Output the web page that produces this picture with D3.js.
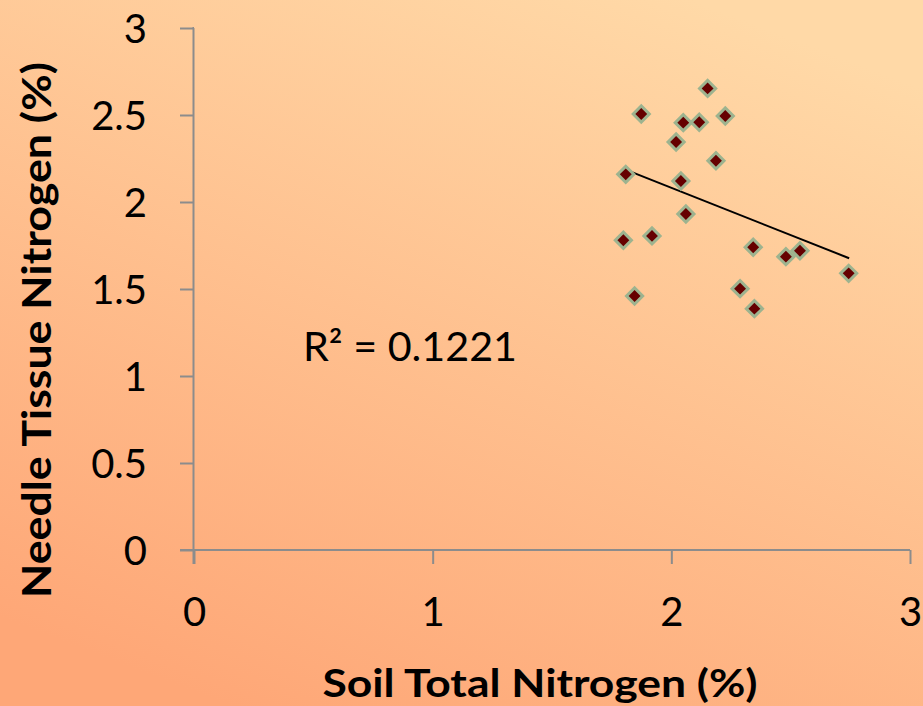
<!DOCTYPE html>
<html>
<head>
<meta charset="utf-8">
<script src="https://cdn.jsdelivr.net/npm/d3@7"></script>
<style>
  html, body { margin: 0; padding: 0; }
  body { width: 923px; height: 706px; overflow: hidden; }
  svg { display: block; }
</style>
</head>
<body>
<svg id="chart" width="923" height="706"></svg>
<script>
// Data
const soilN = [2.152, 1.874, 2.050, 2.117, 2.226, 2.020, 2.187, 1.809, 2.040, 2.061,
               1.799, 1.919, 2.343, 2.480, 2.539, 2.743, 1.846, 2.288, 2.348];
const needleN = [2.653, 2.506, 2.456, 2.458, 2.494, 2.345, 2.237, 2.159, 2.121, 1.931,
                 1.780, 1.805, 1.740, 1.686, 1.720, 1.590, 1.460, 1.502, 1.387];
const trendX = [1.80, 2.745];
const trendY = [2.19, 1.677];
const xTicks = [0, 1, 2, 3];
const yTicks = [0, 0.5, 1, 1.5, 2, 2.5, 3];
const xTitle = "Soil Total Nitrogen (%)";
const yTitle = "Needle Tissue Nitrogen (%)";
const r2Label = "R\u00B2 = 0.1221";

const svg = d3.select("#chart");
const W = 923, H = 706;

// background gradient
const defs = svg.append("defs");
const grad = defs.append("linearGradient").attr("id", "bg")
  .attr("x1", "75%").attr("y1", "0%").attr("x2", "25%").attr("y2", "100%");
grad.append("stop").attr("offset", "0%").attr("stop-color", "#ffd9a7");
grad.append("stop").attr("offset", "100%").attr("stop-color", "#fea777");
svg.append("rect").attr("width", W).attr("height", H).attr("fill", "url(#bg)");

const x = d3.scaleLinear().domain([0, 3]).range([194, 910]);
const y = d3.scaleLinear().domain([0, 3]).range([550, 28]);

const font = "Lato, 'Open Sans', sans-serif";
const axisColor = "#8c8c8c";

// Y axis
const yAxis = svg.append("g").attr("transform", `translate(${x(0)},0)`)
  .call(d3.axisLeft(y).tickValues(yTicks).tickSize(14).tickPadding(33)
        .tickFormat(d => String(d)));
// X axis
const xAxis = svg.append("g").attr("transform", `translate(0,${y(0)})`)
  .call(d3.axisBottom(x).tickValues(xTicks).tickSize(14).tickPadding(33)
        .tickFormat(d => String(d)));

[yAxis, xAxis].forEach(g => {
  g.select(".domain").attr("stroke", axisColor).attr("stroke-width", 2);
  g.selectAll(".tick line").attr("stroke", axisColor).attr("stroke-width", 2);
  g.selectAll(".tick text").attr("fill", "#000").style("font-family", font)
    .style("font-size", "40px");
});
yAxis.select(".domain").attr("d", `M0,${y(3)}H-0.5V${y(0) + 14}`);
xAxis.select(".domain").attr("d", `M${x(0) - 14},0H${x(3)}`);
yAxis.selectAll(".tick text").attr("dy", "0.36em");
xAxis.selectAll(".tick text").attr("dy", "0.72em");

// Trendline
svg.append("line")
  .attr("x1", x(trendX[0])).attr("y1", y(trendY[0]))
  .attr("x2", x(trendX[1])).attr("y2", y(trendY[1]))
  .attr("stroke", "#000").attr("stroke-width", 2);

// Points
const pts = soilN.map((v, i) => ({ x: v, y: needleN[i] }));
const sym = d3.symbol().type(d3.symbolSquare).size(130);
svg.append("g").selectAll("path").data(pts).join("path")
  .attr("d", sym)
  .attr("transform", d => `translate(${x(d.x)},${y(d.y)}) rotate(45)`)
  .attr("fill", "#660000")
  .attr("stroke", "#9db38f")
  .attr("stroke-width", 3);

// R² label
svg.append("text").attr("x", 303).attr("y", 361)
  .attr("textLength", 214).attr("lengthAdjust", "spacingAndGlyphs")
  .style("font-family", font).style("font-size", "40px").attr("fill", "#000")
  .text(r2Label);

// Axis titles
svg.append("text").attr("x", 540).attr("y", 697).attr("text-anchor", "middle")
  .attr("textLength", 435).attr("lengthAdjust", "spacingAndGlyphs")
  .style("font-family", font).style("font-size", "39px").style("font-weight", "bold")
  .attr("fill", "#000").text(xTitle);
svg.append("text").attr("transform", "translate(51,330) rotate(-90)")
  .attr("text-anchor", "middle")
  .attr("textLength", 536).attr("lengthAdjust", "spacingAndGlyphs")
  .style("font-family", font).style("font-size", "40px").style("font-weight", "bold")
  .attr("fill", "#000").text(yTitle);
</script>
</body>
</html>
